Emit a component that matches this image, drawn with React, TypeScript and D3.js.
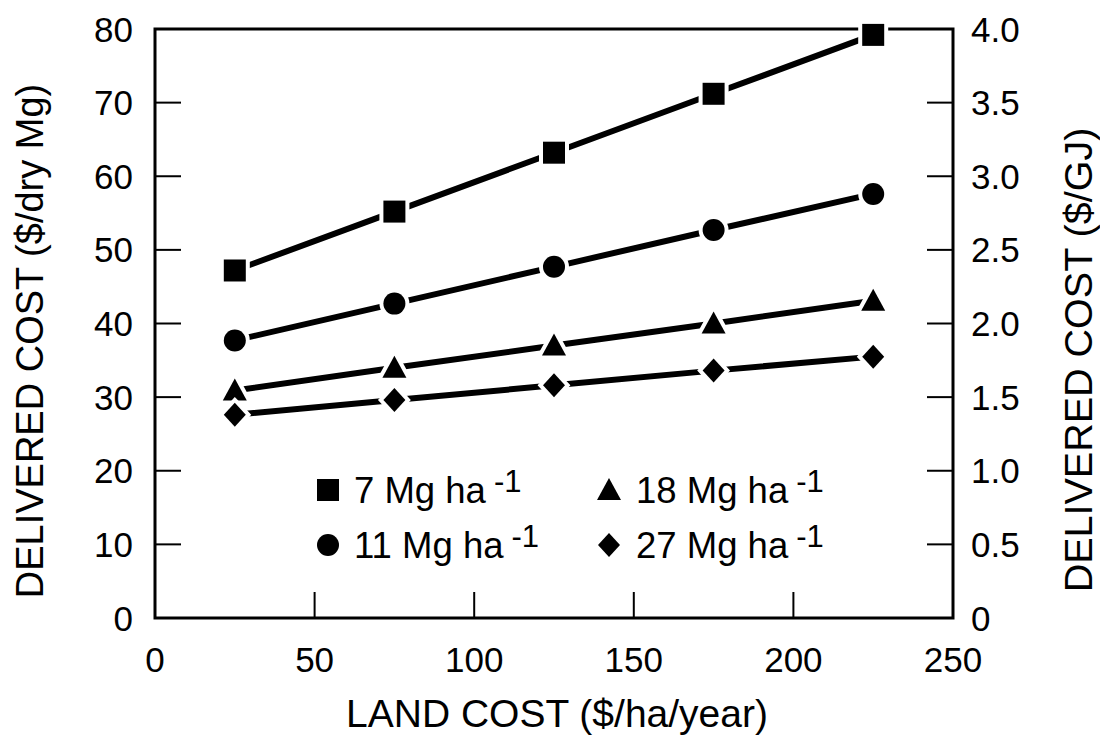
import React from 'react';
import * as d3 from 'd3';

// land cost ($/ha/year) at which each yield was evaluated
const landCost = [25, 75, 125, 175, 225];

// delivered cost ($/dry Mg) for each yield level
const yield7 = [47.2, 55.2, 63.2, 71.2, 79.2];
const yield11 = [37.7, 42.7, 47.7, 52.7, 57.6];
const yield18 = [30.9, 34.0, 37.0, 40.0, 43.1];
const yield27 = [27.6, 29.6, 31.6, 33.6, 35.5];

const seriesNames = ['7', '11', '18', '27'];
const seriesShapes = ['square', 'circle', 'triangle', 'diamond'];

const xTicks = [0, 50, 100, 150, 200, 250];
const yTicks = [0, 10, 20, 30, 40, 50, 60, 70, 80];
const y2Ticks = [0, 0.5, 1.0, 1.5, 2.0, 2.5, 3.0, 3.5, 4.0];
const y2Labels = ['0', '0.5', '1.0', '1.5', '2.0', '2.5', '3.0', '3.5', '4.0'];

const font = '"Liberation Sans", Arial, Helvetica, sans-serif';

const margin = { top: 29, right: 147, bottom: 121, left: 155 };
const W = 1100, H = 739;
const iw = W - margin.left - margin.right;
const ih = H - margin.top - margin.bottom;

function markerPath(shape: string, s: number) {
    // s = nominal marker size in px
    const h = s / 2;
    if (shape === 'square') return `M${-h},${-h}H${h}V${h}H${-h}Z`;
    if (shape === 'triangle') return `M0,${-h - 1}L${h + 1},${h - 1}L${-h - 1},${h - 1}Z`;
    if (shape === 'diamond') return `M0,${-h - 1}L${h},0L0,${h + 1}L${-h},0Z`;
    return d3.symbol(d3.symbolCircle, Math.PI * h * h)() as string;
}

function Marker({ shape, x, y, size = 22, halo = 8 }: any) {
    return (
        <path
            d={markerPath(shape, size)}
            transform={`translate(${x},${y})`}
            fill="#000"
            stroke="#fff"
            strokeWidth={halo}
            style={{ paintOrder: 'stroke' }}
        />
    );
}

export default function App() {
    const x = d3.scaleLinear().domain([0, 250]).range([0, iw]);
    const y = d3.scaleLinear().domain([0, 80]).range([ih, 0]);
    const y2 = d3.scaleLinear().domain([0, 4]).range([ih, 0]);

    const all = [yield7, yield11, yield18, yield27];
    const line = d3.line<number>().x((_, i) => x(landCost[i])).y(d => y(d));

    const tickLen = 26;

    return (
        <svg width={W} height={H} style={{ position: 'absolute', left: 0, top: 0, background: '#fff' }}
            fontFamily={font}>
            <g transform={`translate(${margin.left},${margin.top})`}>
                {/* frame */}
                <rect x={0} y={0} width={iw} height={ih} fill="none" stroke="#000" strokeWidth={3} />

                {/* x ticks */}
                {xTicks.map(t => (
                    <g key={'x' + t}>
                        {t > 0 && t < 250 && (
                            <line x1={x(t)} x2={x(t)} y1={ih} y2={ih - tickLen} stroke="#000" strokeWidth={2} />
                        )}
                        <text x={x(t)} y={ih + 54} textAnchor="middle" fontSize={35}>{t}</text>
                    </g>
                ))}

                {/* left ticks */}
                {yTicks.map(t => (
                    <g key={'y' + t}>
                        {t > 0 && t < 80 && (
                            <line x1={0} x2={tickLen} y1={y(t)} y2={y(t)} stroke="#000" strokeWidth={2} />
                        )}
                        <text x={-22} y={y(t)} dy="0.36em" textAnchor="end" fontSize={35}>{t}</text>
                    </g>
                ))}

                {/* right ticks */}
                {y2Ticks.map((t, i) => (
                    <g key={'y2' + t}>
                        {t > 0 && t < 4 && (
                            <line x1={iw} x2={iw - tickLen} y1={y2(t)} y2={y2(t)} stroke="#000" strokeWidth={2} />
                        )}
                        <text x={iw + 18} y={y2(t)} dy="0.36em" textAnchor="start" fontSize={35}>{y2Labels[i]}</text>
                    </g>
                ))}

                {/* lines */}
                {all.map((s, i) => (
                    <path key={'l' + i} d={line(s) as string} fill="none" stroke="#000" strokeWidth={6} />
                ))}

                {/* markers */}
                {all.map((s, i) => s.map((v, j) => (
                    <Marker key={`m${i}-${j}`} shape={seriesShapes[i]} x={x(landCost[j])} y={y(v)} />
                )))}
            </g>

            {/* axis titles */}
            <text x={557} y={727} textAnchor="middle" fontSize={39}>LAND COST ($/ha/year)</text>
            <text transform="translate(43,341) rotate(-90)" textAnchor="middle" fontSize={38}>
                DELIVERED COST ($/dry Mg)
            </text>
            <text transform="translate(1092,360) rotate(-90)" textAnchor="middle" fontSize={39.5}>
                DELIVERED COST ($/GJ)
            </text>

            {/* legend */}
            {seriesNames.map((n, i) => {
                const col = i === 0 || i === 1 ? 0 : 1;
                const row = i === 0 || i === 2 ? 0 : 1;
                const mx = col === 0 ? 328 : 609;
                const my = row === 0 ? 490 : 545;
                const tx = col === 0 ? 354 : 636;
                const ty = row === 0 ? 503 : 558;
                return (
                    <g key={'lg' + n}>
                        <Marker shape={seriesShapes[i]} x={mx} y={my} size={22} halo={0} />
                        <text x={tx} y={ty} fontSize={36.5}>
                            {n} Mg ha
                            <tspan dx={8} dy={-11} fontSize={31}>-1</tspan>
                        </text>
                    </g>
                );
            })}
        </svg>
    );
}
